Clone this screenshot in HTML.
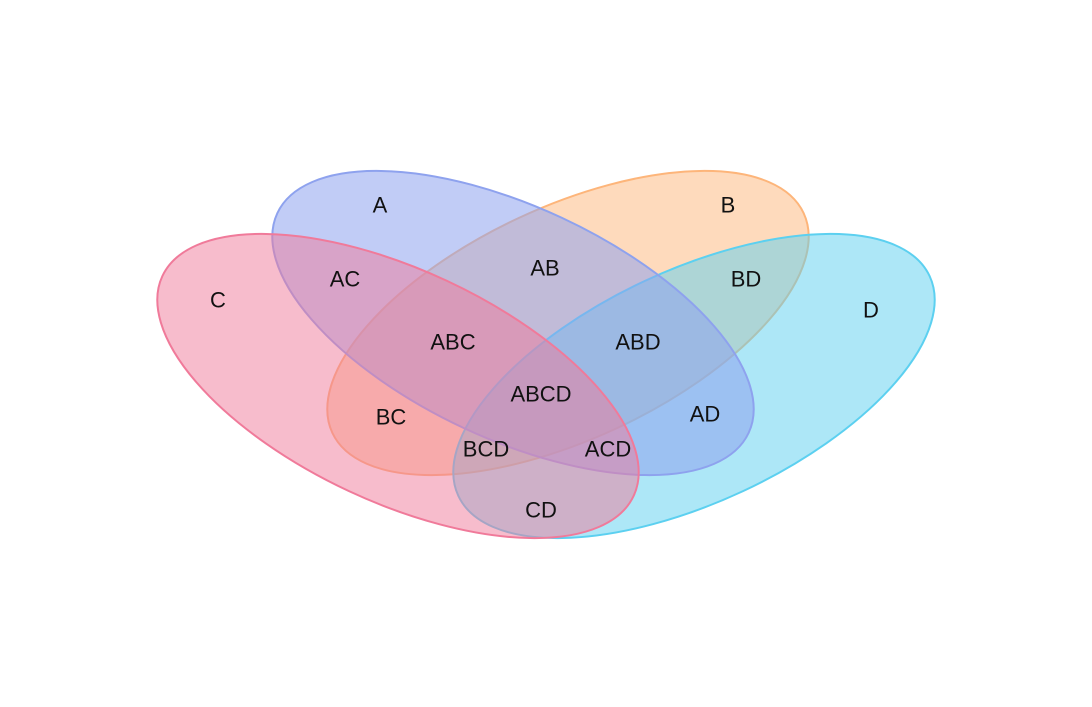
<!DOCTYPE html>
<html><head><meta charset="utf-8"><style>
html,body{margin:0;padding:0;background:#fff;}
svg text{font-family:"Liberation Sans",sans-serif;font-size:22px;fill:#111;text-anchor:middle;dominant-baseline:central;}
</style></head><body>
<svg width="1092" height="702" viewBox="0 0 1092 702" xmlns="http://www.w3.org/2000/svg">
<ellipse cx="568" cy="323" rx="260" ry="116" transform="rotate(-25 568 323)" fill="#fdb57a" fill-opacity="0.5" stroke="#fdb57a" stroke-width="2"/>
<ellipse cx="694" cy="386" rx="260" ry="116" transform="rotate(-25 694 386)" fill="#5cd0f0" fill-opacity="0.5" stroke="#5cd0f0" stroke-width="2"/>
<ellipse cx="513" cy="323" rx="260" ry="116" transform="rotate(25 513 323)" fill="#8ea2ee" fill-opacity="0.55" stroke="#8ea2ee" stroke-width="2"/>
<ellipse cx="398" cy="386" rx="260" ry="116" transform="rotate(25 398 386)" fill="#f07a9a" fill-opacity="0.5" stroke="#f07a9a" stroke-width="2"/>
<text x="380" y="205">A</text>
<text x="728" y="205">B</text>
<text x="218" y="300">C</text>
<text x="871" y="310">D</text>
<text x="345" y="279">AC</text>
<text x="545" y="268">AB</text>
<text x="746" y="279">BD</text>
<text x="453" y="342">ABC</text>
<text x="638" y="342">ABD</text>
<text x="541" y="394">ABCD</text>
<text x="391" y="417">BC</text>
<text x="705" y="414">AD</text>
<text x="486" y="449">BCD</text>
<text x="608" y="449">ACD</text>
<text x="541" y="510">CD</text>
</svg>
</body></html>
